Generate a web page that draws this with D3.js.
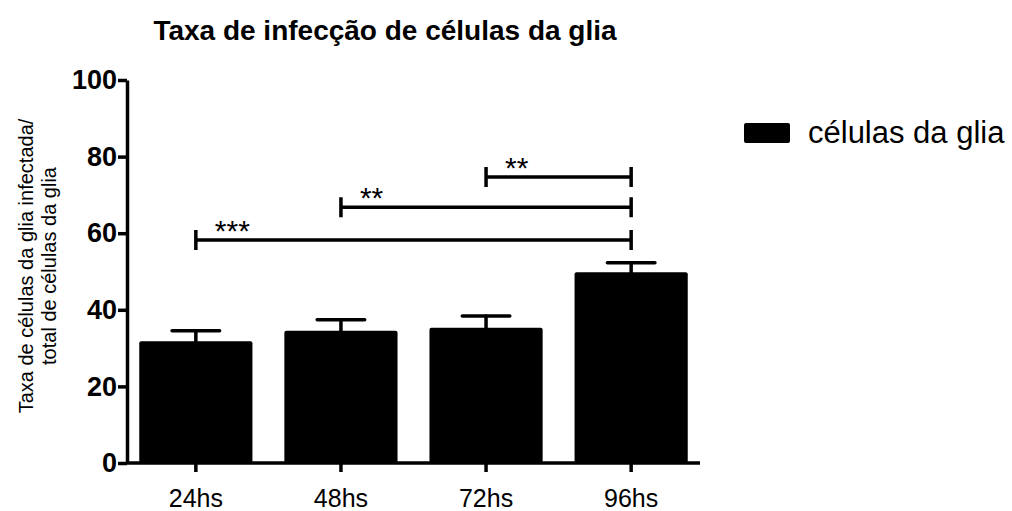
<!DOCTYPE html>
<html>
<head>
<meta charset="utf-8">
<script src="https://cdn.jsdelivr.net/npm/d3@7"></script>
<style>
  body { margin: 0; background: #fff; }
  svg { font-family: "Liberation Sans", Arial, sans-serif; }
</style>
</head>
<body>
<div id="chart"></div>
<script>
// dados
const grupos = ["24hs", "48hs", "72hs", "96hs"];
const medias = [31.8, 34.5, 35.3, 49.8];
const erros = [2.7, 2.9, 3.1, 2.5];
const yTicks = [0, 20, 40, 60, 80, 100];
const comparacoes = [
    { de: "24hs", ate: "96hs", y: 58.2, label: "***" },
    { de: "48hs", ate: "96hs", y: 66.8, label: "**" },
    { de: "72hs", ate: "96hs", y: 74.7, label: "**" }
];

function desenharGrafico() {
    const width = 1012, height = 511;
    const margin = { left: 127, top: 80, bottom: 48 };

    const svg = d3.select("#chart")
        .append("svg")
        .attr("width", width)
        .attr("height", height);

    const x = d3.scaleBand()
        .domain(grupos)
        .range([132, 695])
        .paddingInner(0.22)
        .paddingOuter(0.05);

    const y = d3.scaleLinear()
        .domain([0, 100])
        .range([height - margin.bottom, margin.top]);

    // barras
    svg.append("g").selectAll("rect")
        .data(grupos)
        .enter()
        .append("rect")
        .attr("x", d => x(d))
        .attr("y", (d, i) => y(medias[i]))
        .attr("width", x.bandwidth())
        .attr("height", (d, i) => y(0) - y(medias[i]))
        .attr("rx", 2)
        .style("fill", "black");

    // barras de erro
    const capW = x.bandwidth() * 0.42;
    const eb = svg.append("g")
        .attr("stroke", "black")
        .attr("stroke-width", 3.5)
        .attr("stroke-linecap", "round");
    grupos.forEach((g, i) => {
        const cx = x(g) + x.bandwidth() / 2;
        eb.append("line")
            .attr("x1", cx).attr("x2", cx)
            .attr("y1", y(medias[i])).attr("y2", y(medias[i] + erros[i]));
        eb.append("line")
            .attr("x1", cx - capW / 2).attr("x2", cx + capW / 2)
            .attr("y1", y(medias[i] + erros[i])).attr("y2", y(medias[i] + erros[i]));
    });

    // eixo y
    const yAxis = svg.append("g")
        .attr("transform", `translate(${margin.left},0)`)
        .call(d3.axisLeft(y).tickValues(yTicks).tickSize(9).tickSizeOuter(0));
    yAxis.select(".domain").attr("stroke-width", 3.5);
    yAxis.selectAll(".tick line").attr("stroke-width", 3.5);
    yAxis.selectAll(".tick text")
        .attr("x", -10)
        .style("font-size", "27px")
        .style("font-weight", "bold")
        .style("fill", "black");

    // eixo x
    const xAxis = svg.append("g")
        .attr("transform", `translate(0,${y(0)})`)
        .call(d3.axisBottom(x).tickSize(9).tickSizeOuter(0));
    xAxis.select(".domain")
        .attr("d", `M${margin.left},0H700`)
        .attr("stroke-width", 3.5);
    xAxis.selectAll(".tick line").attr("stroke-width", 3.5);
    xAxis.selectAll(".tick text")
        .attr("y", 44)
        .attr("dy", 0)
        .style("font-size", "25px")
        .style("fill", "black");

    // comparações de significância
    const sig = svg.append("g");
    comparacoes.forEach(c => {
        const x1 = x(c.de) + x.bandwidth() / 2;
        const x2 = x(c.ate) + x.bandwidth() / 2;
        const yy = y(c.y);
        sig.append("path")
            .attr("d", `M${x1},${yy - 10}V${yy + 10}M${x1},${yy}H${x2}M${x2},${yy - 10}V${yy + 10}`)
            .attr("stroke", "black")
            .attr("stroke-width", 3.5)
            .attr("fill", "none");
        sig.append("text")
            .attr("x", x1 + 19)
            .attr("y", yy + 1)
            .style("font-size", "30px")
            .text(c.label);
    });

    // título
    svg.append("text")
        .attr("x", 385)
        .attr("y", 40)
        .attr("text-anchor", "middle")
        .style("font-size", "28px")
        .style("font-weight", "bold")
        .text("Taxa de infecção de células da glia");

    // rótulo do eixo y
    const yl = svg.append("text")
        .attr("transform", "translate(0,266) rotate(-90)")
        .attr("text-anchor", "middle")
        .style("font-size", "20px");
    yl.append("tspan").attr("x", 0).attr("y", 33).text("Taxa de células da glia infectada/");
    yl.append("tspan").attr("x", 0).attr("y", 56).text("total de células da glia");

    // legenda
    const leg = svg.append("g").attr("transform", "translate(744,123)");
    leg.append("rect")
        .attr("width", 46).attr("height", 20).attr("rx", 2)
        .style("fill", "black");
    leg.append("text")
        .attr("x", 64).attr("y", 20)
        .style("font-size", "31px")
        .text("células da glia");
}

desenharGrafico();
</script>
</body>
</html>
